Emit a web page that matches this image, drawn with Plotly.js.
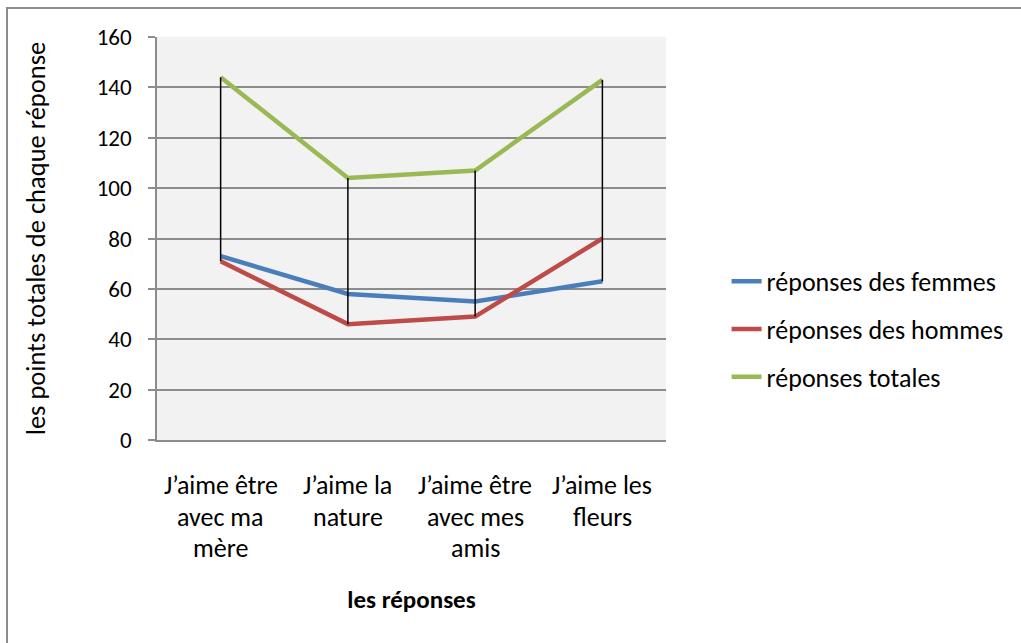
<!DOCTYPE html>
<html>
<head>
<meta charset="utf-8">
<script src="https://cdn.plot.ly/plotly-3.0.1.min.js"></script>
<style>
  html, body { margin: 0; padding: 0; background: #ffffff; }
  #wrap { position: relative; width: 1021px; height: 643px; overflow: hidden; }
  #chart { position: absolute; left: 0; top: 0; width: 1021px; height: 643px; }
  #frame { position: absolute; left: 6px; top: 7px; width: 1100px; height: 700px;
           border-left: 2px solid #8c8c8c; border-top: 2px solid #8c8c8c; pointer-events: none; }
</style>
</head>
<body>
<div id="wrap">
  <div id="chart"></div>
  <div id="frame"></div>
</div>
<script>
// ---- data ----
const categories = ["J’aime être avec ma mère", "J’aime la nature", "J’aime être avec mes amis", "J’aime les fleurs"];
const tickLines = [["J’aime être", "avec ma", "mère"], ["J’aime la", "nature"], ["J’aime être", "avec mes", "amis"], ["J’aime les", "fleurs"]];
const femmes = [73, 58, 55, 63];
const hommes = [71, 46, 49, 80];
const totales = [144, 104, 107, 143];
const seriesNames = ["réponses des femmes", "réponses des hommes", "réponses totales"];
const yTickVals = [0, 20, 40, 60, 80, 100, 120, 140, 160];

const FONT = "Carlito, Calibri, Lato, sans-serif";
const colors = ["#4A7EBB", "#BE4B48", "#98B954"];
const allSeries = [femmes, hommes, totales];

const traces = allSeries.map((vals, i) => ({
  type: "scatter",
  mode: "lines",
  x: categories,
  y: vals,
  name: seriesNames[i],
  legendgroup: "g" + i,
  line: { color: colors[i], width: 4.5 },
  hoverinfo: "x+y+name"
}));

// high-low lines derived from series values
const dropX = [], dropY = [];
categories.forEach((c, k) => {
  const vals = allSeries.map(s => s[k]);
  dropX.push(c, c, null);
  dropY.push(Math.max(...vals), Math.min(...vals), null);
});
traces.push({
  type: "scatter", mode: "lines", x: dropX, y: dropY,
  line: { color: "#000000", width: 1.5 }, showlegend: false, hoverinfo: "skip"
});

const annotations = [];
categories.forEach((c, k) => {
  tickLines[k].forEach((txt, j) => {
    annotations.push({
      x: c, xref: "x", y: 0, yref: "paper",
      text: txt, showarrow: false, xanchor: "center", yanchor: "middle",
      yshift: -(45 + j * 31.5),
      font: { family: FONT, size: 26, color: "#000000" }
    });
  });
});

const layout = {
  width: 1021, height: 643,
  margin: { l: 157, r: 355, t: 37, b: 203, pad: 0 },
  paper_bgcolor: "rgba(0,0,0,0)",
  plot_bgcolor: "#F2F2F2",
  font: { family: FONT, size: 26, color: "#000000" },
  showlegend: true,
  legend: {
    x: 1.119, xanchor: "left", y: 0.452, yanchor: "top",
    bgcolor: "rgba(0,0,0,0)",
    font: { family: FONT, size: 26, color: "#000000" },
    tracegroupgap: 11
  },
  xaxis: {
    type: "category",
    range: [-0.5, 3.5],
    showticklabels: false,
    ticks: "",
    showgrid: false,
    showline: true, linecolor: "#8c8c8c", linewidth: 1.5,
    zeroline: false,
    fixedrange: true,
    title: { text: "<b>les réponses</b>", font: { family: FONT, size: 25, color: "#000000" }, standoff: 150 }
  },
  yaxis: {
    range: [0, 160],
    tickvals: yTickVals,
    ticks: "outside", ticklen: 7, tickcolor: "#8c8c8c", tickwidth: 1.5,
    ticklabelstandoff: 12,
    showgrid: true, gridcolor: "#8c8c8c", gridwidth: 1.5,
    showline: true, linecolor: "#8c8c8c", linewidth: 1.5,
    zeroline: false,
    fixedrange: true,
    tickfont: { family: FONT, size: 23, color: "#000000" },
    title: { text: "les points totales de chaque réponse", font: { family: FONT, size: 26.5, color: "#000000" }, standoff: 43 }
  },
  annotations: annotations
};

Plotly.newPlot("chart", traces, layout, { displayModeBar: false, staticPlot: false });
</script>
</body>
</html>
